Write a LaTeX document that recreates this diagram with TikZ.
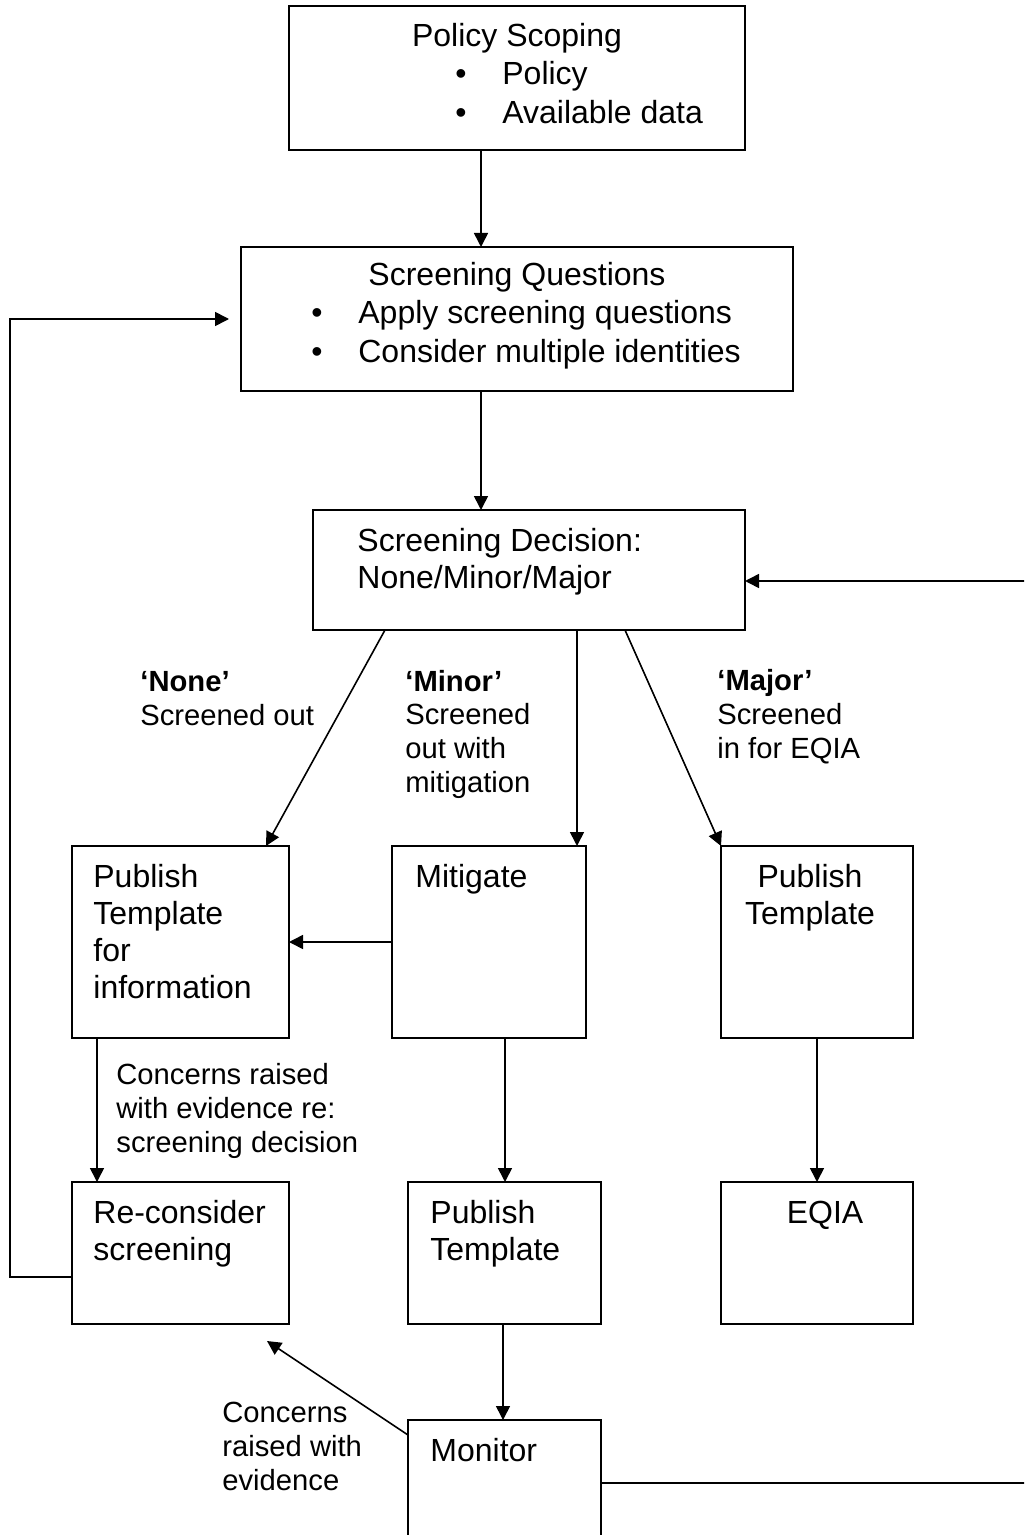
\documentclass[tikz,border=0pt]{standalone}
\usepackage{fontspec}
\setmainfont{Liberation Sans}
\usetikzlibrary{arrows.meta}
\newcommand{\boxwidth}{1pt}
\newcommand{\arrwidth}{0.8pt}
\newcommand{\boxfont}{\fontsize{16}{18.5}\selectfont}
\newcommand{\listfont}{\fontsize{16}{19.5}\selectfont}
\newcommand{\lblfont}{\fontsize{14.6}{16.8}\selectfont}
\tikzset{
  box/.style={draw, line width=\boxwidth, inner sep=0pt, outer sep=0pt},
  txt/.style={anchor=base west, inner sep=0pt, align=left, font=\boxfont},
  lbl/.style={anchor=base west, inner sep=0pt, align=left, font=\lblfont},
  arr/.style={line width=\arrwidth, -{Triangle[length=7pt, width=7pt]}}
}

\begin{document}
\begin{tikzpicture}[x=0.5pt, y=-0.5pt]
\useasboundingbox (0,0) rectangle (1024,1535);
\clip (0,0) rectangle (1024,1535);
%boxes
\node[box] (scope) at (517, 78) [minimum width=228pt, minimum height=72pt] {};
\node[box] (quest) at (517, 319) [minimum width=276pt, minimum height=72pt] {};
\node[box] (dec) at (529, 570) [minimum width=216pt, minimum height=60pt] {};
\node[box] (info) at (180.5, 942) [minimum width=108.5pt, minimum height=96pt] {};
\node[box] (mitig) at (489, 942) [minimum width=97pt, minimum height=96pt] {};
\node[box] (major) at (817, 942) [minimum width=96pt, minimum height=96pt] {};
\node[box] (recon) at (180.5, 1253) [minimum width=108.5pt, minimum height=71pt] {};
\node[box] (minor) at (504.5, 1253) [minimum width=96.5pt, minimum height=71pt] {};
\node[box] (eqia) at (817, 1253) [minimum width=96pt, minimum height=71pt] {};
\node[box] (mon) at (504.5, 1516) [minimum width=96.5pt, minimum height=96pt] {};
%box texts (placed at the baseline of the last line)
\node[txt] (scopet) at (517, 47) [anchor=base, font=\listfont] {Policy Scoping};
\node[txt] (scopel) at (455, 124) [font=\listfont] {\makebox[23.5pt][l]{•}Policy\\\makebox[23.5pt][l]{•}Available data};
\node[txt] (questt) at (517, 286) [anchor=base, font=\listfont] {Screening Questions};
\node[txt] (questl) at (311, 363) [font=\listfont] {\makebox[23.5pt][l]{•}Apply screening questions\\\makebox[23.5pt][l]{•}Consider multiple identities};
\node[txt] (dect) at (357, 588) {Screening Decision:\\None/Minor/Major};
\node[txt] (infot) at (93, 998) {Publish\\Template\\for\\information};
\node[txt] (mitigt) at (415, 887) {Mitigate};
\node[txt] (majort) at (810, 924) [anchor=base, align=center] {Publish\\Template};
\node[txt] (recont) at (93, 1260) {Re-consider\\screening};
\node[txt] (minort) at (430, 1260) {Publish\\Template};
\node[txt] (eqiat) at (825, 1223) [anchor=base] {EQIA};
\node[txt] (mont) at (430, 1461) {Monitor};
%labels
\node[lbl] (nonel) at (140, 725) {\textbf{‘None’}\\Screened out};
\node[lbl] (minorl) at (405, 792) {\textbf{‘Minor’}\\Screened\\out with\\mitigation};
\node[lbl] (majorl) at (717, 758) {\textbf{‘Major’}\\Screened\\in for EQIA};
\node[lbl] (concl) at (116, 1152) {Concerns raised\\with evidence re:\\screening decision};
\node[lbl] (monl) at (222, 1490) {Concerns\\raised with\\evidence};
%arrows
\draw[arr] (481,0 |- scope.south) -- (481,0 |- quest.north);
\draw[arr] (481,0 |- quest.south) -- (481,0 |- dec.north);
\draw[arr] (385,0 |- dec.south) -- (266,0 |- info.north);
\draw[arr] (577,0 |- dec.south) -- (577,0 |- mitig.north);
\draw[arr] (625,0 |- dec.south) -- (major.north west);
\draw[arr] (mitig.west) -- (info.east);
\draw[arr] (97,0 |- info.south) -- (97,0 |- recon.north);
\draw[arr] (505,0 |- mitig.south) -- (505,0 |- minor.north);
\draw[arr] (major.south) -- (eqia.north);
\draw[arr] (503,0 |- minor.south) -- (503,0 |- mon.north);
\coordinate (back) at (267, 1341);
\draw[arr] (mon.west |- 0,1435) -- (back);
%loops
\draw[arr] [shorten >=6pt] (recon.west |- 0,1277) -| (10,319) -- (quest.west);
\draw[arr] (mon.east |- 0,1483) -| (1040,581) -- (dec.east |- 0,581);
\end{tikzpicture}
\end{document}
